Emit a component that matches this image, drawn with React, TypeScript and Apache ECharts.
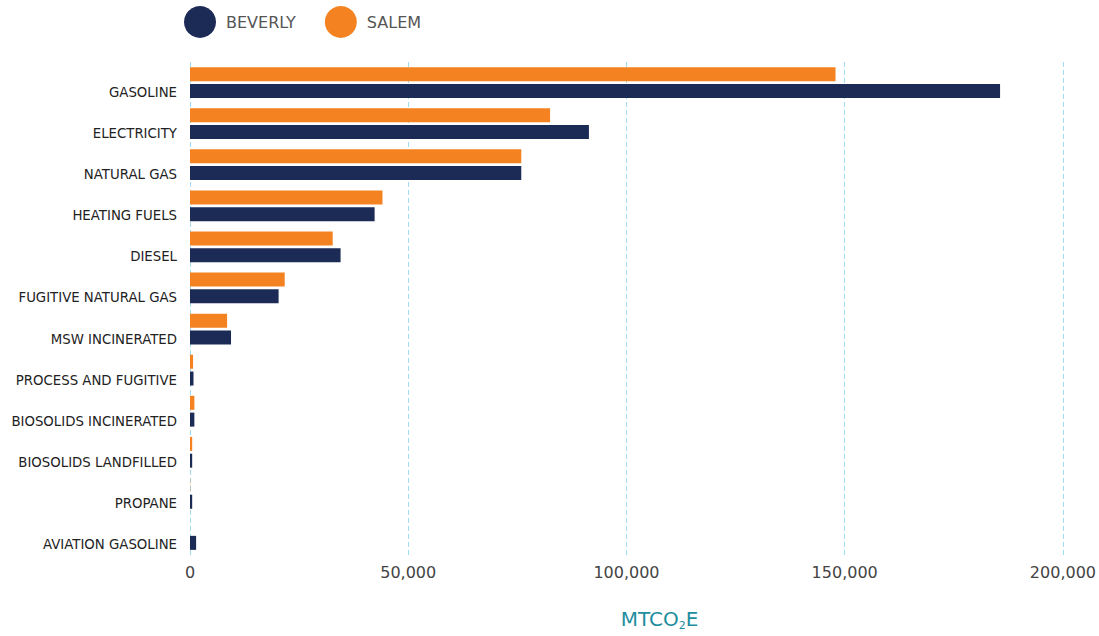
import React, { useEffect, useRef } from "react";
import * as echarts from "echarts";

const categories = [
  "GASOLINE",
  "ELECTRICITY",
  "NATURAL GAS",
  "HEATING FUELS",
  "DIESEL",
  "FUGITIVE NATURAL GAS",
  "MSW INCINERATED",
  "PROCESS AND FUGITIVE",
  "BIOSOLIDS INCINERATED",
  "BIOSOLIDS LANDFILLED",
  "PROPANE",
  "AVIATION GASOLINE",
];
const beverly = [185600, 91400, 75900, 42300, 34500, 20300, 9400, 800, 1000, 500, 500, 1400];
const salem = [147900, 82500, 75900, 44100, 32700, 21700, 8500, 700, 1000, 500, 50, 0];
const xTicks = { min: 0, max: 200000, interval: 50000 };

export default function App() {
  const ref = useRef<HTMLDivElement>(null);
  useEffect(() => {
    const chart = echarts.init(ref.current!, null, { renderer: "svg" });
    const font = "DejaVu Sans";
    chart.setOption({
      animation: false,
      textStyle: { fontFamily: font },
      legend: {
        data: ["BEVERLY", "SALEM"],
        left: 184,
        top: 6,
        padding: 0,
        icon: "circle",
        itemWidth: 32,
        itemHeight: 32,
        itemGap: 29,
        textStyle: { fontSize: 16, color: "#555", fontFamily: font, padding: [0, 0, 0, 5] },
      },
      grid: { left: 190, right: 34, top: 62, bottom: 79, containLabel: false },
      xAxis: {
        type: "value",
        min: xTicks.min,
        max: xTicks.max,
        interval: xTicks.interval,
        axisLine: { show: false },
        axisTick: { show: false },
        splitLine: { show: true, lineStyle: { color: "#9fdcf3", type: [5, 3], width: 1 } },
        axisLabel: {
          fontSize: 16,
          color: "#444",
          margin: 9,
          formatter: (v: number) => v.toLocaleString("en-US"),
        },
        name: "{a|MTCO}{s|2}{a|E}",
        nameLocation: "middle",
        nameGap: 51,
        nameTextStyle: {
          padding: [0, 0, 0, 66],
          rich: {
            a: { fontSize: 20, color: "#1e8e9e", fontFamily: font },
            s: { fontSize: 11, color: "#1e8e9e", fontFamily: font, padding: [14, 0, 0, 0] },
          },
        },
      },
      yAxis: {
        type: "category",
        data: categories,
        inverse: true,
        axisLine: { show: false },
        axisTick: { show: false },
        axisLabel: {
          fontSize: 13.3,
          color: "#222",
          margin: 13,
          verticalAlign: "top",
          lineHeight: 20,
        },
      },
      series: [
        {
          name: "SALEM",
          type: "bar",
          data: salem,
          barWidth: 14,
          barGap: "20%",
          itemStyle: { color: "#f58220" },
        },
        {
          name: "BEVERLY",
          type: "bar",
          data: beverly,
          barWidth: 14,
          barGap: "20%",
          itemStyle: { color: "#1c2a56" },
        },
      ],
    });
    return () => chart.dispose();
  }, []);
  return (
    <div
      ref={ref}
      style={{ position: "absolute", left: 0, top: 0, width: 1099, height: 636 }}
    />
  );
}
